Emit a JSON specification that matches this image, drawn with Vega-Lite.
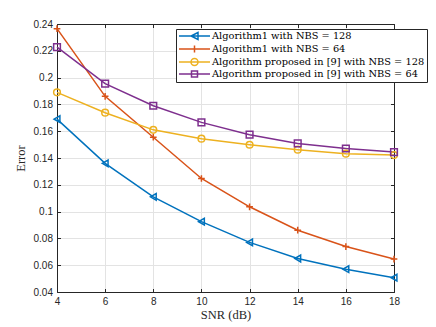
{
  "$schema": "https://vega.github.io/schema/vega-lite/v6.json",
  "width": 337,
  "height": 268,
  "autosize": {"type": "none"},
  "padding": {"left": 57, "top": 24, "right": 42, "bottom": 35},
  "background": "white",
  "config": {
    "view": {"stroke": "#262626", "strokeWidth": 1},
    "font": "Liberation Sans"
  },
  "data": {
    "values": [
      {"snr": 4, "error": 0.169, "series": "Algorithm1 with NBS = 128"},
      {"snr": 6, "error": 0.136, "series": "Algorithm1 with NBS = 128"},
      {"snr": 8, "error": 0.111, "series": "Algorithm1 with NBS = 128"},
      {"snr": 10, "error": 0.0925, "series": "Algorithm1 with NBS = 128"},
      {"snr": 12, "error": 0.077, "series": "Algorithm1 with NBS = 128"},
      {"snr": 14, "error": 0.065, "series": "Algorithm1 with NBS = 128"},
      {"snr": 16, "error": 0.057, "series": "Algorithm1 with NBS = 128"},
      {"snr": 18, "error": 0.0507, "series": "Algorithm1 with NBS = 128"},
      {"snr": 4, "error": 0.2365, "series": "Algorithm1 with NBS = 64"},
      {"snr": 6, "error": 0.186, "series": "Algorithm1 with NBS = 64"},
      {"snr": 8, "error": 0.1555, "series": "Algorithm1 with NBS = 64"},
      {"snr": 10, "error": 0.1247, "series": "Algorithm1 with NBS = 64"},
      {"snr": 12, "error": 0.1036, "series": "Algorithm1 with NBS = 64"},
      {"snr": 14, "error": 0.0861, "series": "Algorithm1 with NBS = 64"},
      {"snr": 16, "error": 0.0739, "series": "Algorithm1 with NBS = 64"},
      {"snr": 18, "error": 0.0646, "series": "Algorithm1 with NBS = 64"},
      {"snr": 4, "error": 0.189, "series": "Algorithm proposed in [9] with NBS = 128"},
      {"snr": 6, "error": 0.1738, "series": "Algorithm proposed in [9] with NBS = 128"},
      {"snr": 8, "error": 0.161, "series": "Algorithm proposed in [9] with NBS = 128"},
      {"snr": 10, "error": 0.1544, "series": "Algorithm proposed in [9] with NBS = 128"},
      {"snr": 12, "error": 0.1499, "series": "Algorithm proposed in [9] with NBS = 128"},
      {"snr": 14, "error": 0.1462, "series": "Algorithm proposed in [9] with NBS = 128"},
      {"snr": 16, "error": 0.1432, "series": "Algorithm proposed in [9] with NBS = 128"},
      {"snr": 18, "error": 0.1422, "series": "Algorithm proposed in [9] with NBS = 128"},
      {"snr": 4, "error": 0.2227, "series": "Algorithm proposed in [9] with NBS = 64"},
      {"snr": 6, "error": 0.1955, "series": "Algorithm proposed in [9] with NBS = 64"},
      {"snr": 8, "error": 0.179, "series": "Algorithm proposed in [9] with NBS = 64"},
      {"snr": 10, "error": 0.1666, "series": "Algorithm proposed in [9] with NBS = 64"},
      {"snr": 12, "error": 0.1574, "series": "Algorithm proposed in [9] with NBS = 64"},
      {"snr": 14, "error": 0.1509, "series": "Algorithm proposed in [9] with NBS = 64"},
      {"snr": 16, "error": 0.1471, "series": "Algorithm proposed in [9] with NBS = 64"},
      {"snr": 18, "error": 0.1444, "series": "Algorithm proposed in [9] with NBS = 64"}
    ]
  },
  "layer": [
    {
      "mark": {"type": "line", "strokeWidth": 1.5},
      "encoding": {
        "x": {
          "field": "snr", "type": "quantitative",
          "scale": {"domain": [4, 18], "nice": false, "zero": false},
          "axis": {
            "values": [4, 6, 8, 10, 12, 14, 16, 18],
            "title": "SNR (dB)",
            "titleFont": "Liberation Serif", "titleFontSize": 12.5, "titleFontWeight": "normal",
            "titleColor": "#262626", "titlePadding": 2,
            "labelFont": "Liberation Sans", "labelFontSize": 10, "labelColor": "#262626",
            "labelPadding": 8, "tickSize": -3.5, "tickColor": "#262626",
            "domainColor": "#262626", "gridColor": "#e3e3e3", "labelFlush": false
          }
        },
        "y": {
          "field": "error", "type": "quantitative",
          "scale": {"domain": [0.04, 0.24], "nice": false, "zero": false},
          "axis": {
            "values": [0.04, 0.06, 0.08, 0.1, 0.12, 0.14, 0.16, 0.18, 0.2, 0.22, 0.24],
            "format": ".2~f",
            "title": "Error",
            "titleFont": "Liberation Serif", "titleFontSize": 12.5, "titleFontWeight": "normal",
            "titleColor": "#262626", "titlePadding": 6,
            "labelFont": "Liberation Sans", "labelFontSize": 10, "labelColor": "#262626",
            "labelPadding": 8, "tickSize": -3.5, "tickColor": "#262626",
            "domainColor": "#262626", "gridColor": "#e3e3e3", "labelFlush": false
          }
        },
        "color": {
          "field": "series", "type": "nominal",
          "scale": {
            "domain": ["Algorithm1 with NBS = 128", "Algorithm1 with NBS = 64", "Algorithm proposed in [9] with NBS = 128", "Algorithm proposed in [9] with NBS = 64"],
            "range": ["#0072BD", "#D95319", "#EDB120", "#7E2F8E"]
          },
          "legend": null
        }
      }
    },
    {
      "mark": {"type": "point", "filled": false, "size": 45, "strokeWidth": 1.5, "opacity": 1},
      "encoding": {
        "x": {
          "field": "snr", "type": "quantitative",
          "scale": {"domain": [4, 18], "nice": false, "zero": false},
          "axis": {"orient": "top", "values": [4, 6, 8, 10, 12, 14, 16, 18], "labels": false, "title": null, "grid": false, "tickSize": -3.5, "tickColor": "#262626", "domainColor": "#262626"}
        },
        "y": {
          "field": "error", "type": "quantitative",
          "scale": {"domain": [0.04, 0.24], "nice": false, "zero": false},
          "axis": {"orient": "right", "values": [0.04, 0.06, 0.08, 0.1, 0.12, 0.14, 0.16, 0.18, 0.2, 0.22, 0.24], "labels": false, "title": null, "grid": false, "tickSize": -3.5, "tickColor": "#262626", "domainColor": "#262626"}
        },
        "color": {
          "field": "series", "type": "nominal",
          "scale": {
            "domain": ["Algorithm1 with NBS = 128", "Algorithm1 with NBS = 64", "Algorithm proposed in [9] with NBS = 128", "Algorithm proposed in [9] with NBS = 64"],
            "range": ["#0072BD", "#D95319", "#EDB120", "#7E2F8E"]
          },
          "legend": null
        },
        "shape": {
          "field": "series", "type": "nominal",
          "scale": {
            "domain": ["Algorithm1 with NBS = 128", "Algorithm1 with NBS = 64", "Algorithm proposed in [9] with NBS = 128", "Algorithm proposed in [9] with NBS = 64"],
            "range": ["triangle-left", "M-1,0L1,0M0,-1L0,1", "circle", "square"]
          },
          "legend": null
        }
      }
    },
    {
      "mark": {"type": "point", "filled": false, "size": 64, "strokeWidth": 1.5, "opacity": 0},
      "encoding": {
        "x": {"field": "snr", "type": "quantitative", "scale": {"domain": [4, 18], "nice": false, "zero": false}, "axis": null},
        "y": {"field": "error", "type": "quantitative", "scale": {"domain": [0.04, 0.24], "nice": false, "zero": false}, "axis": null},
        "color": {
          "field": "series", "type": "nominal",
          "scale": {
            "domain": ["Algorithm1 with NBS = 128", "Algorithm1 with NBS = 64", "Algorithm proposed in [9] with NBS = 128", "Algorithm proposed in [9] with NBS = 64"],
            "range": ["#0072BD", "#D95319", "#EDB120", "#7E2F8E"]
          },
          "legend": {
            "orient": "none", "legendX": 119, "legendY": 5,
            "title": null,
            "fillColor": "white", "strokeColor": "#262626", "padding": 2,
            "labelFont": "DejaVu Serif", "labelFontSize": 9.8, "labelColor": "black",
            "labelOffset": 24, "labelLimit": 400,
            "symbolSize": 64, "symbolStrokeWidth": 1.5, "rowPadding": -1,
            "symbolFillColor": "transparent", "symbolOpacity": 1
          }
        },
        "shape": {
          "field": "series", "type": "nominal",
          "scale": {
            "domain": ["Algorithm1 with NBS = 128", "Algorithm1 with NBS = 64", "Algorithm proposed in [9] with NBS = 128", "Algorithm proposed in [9] with NBS = 64"],
            "range": [
              "M-1,0L6.75,0M3.75,-0.875L2,0L3.75,0.875Z",
              "M-1,0L6.75,0M2,0L3.75,0M2.875,-0.875L2.875,0.875",
              "M-1,0L6.75,0M3.75,0A0.875,0.875 0 1,1 2,0A0.875,0.875 0 1,1 3.75,0",
              "M-1,0L6.75,0M2.125,-0.75L3.625,-0.75L3.625,0.75L2.125,0.75Z"
            ]
          },
          "legend": {
            "orient": "none", "legendX": 119, "legendY": 5,
            "title": null,
            "fillColor": "white", "strokeColor": "#262626", "padding": 2,
            "labelFont": "DejaVu Serif", "labelFontSize": 9.8, "labelColor": "black",
            "labelOffset": 24, "labelLimit": 400,
            "symbolSize": 64, "symbolStrokeWidth": 1.5, "rowPadding": -1,
            "symbolFillColor": "transparent", "symbolOpacity": 1
          }
        }
      }
    }
  ],
  "resolve": {
    "axis": {"x": "independent", "y": "independent"},
    "scale": {"color": "independent", "shape": "independent"}
  }
}
